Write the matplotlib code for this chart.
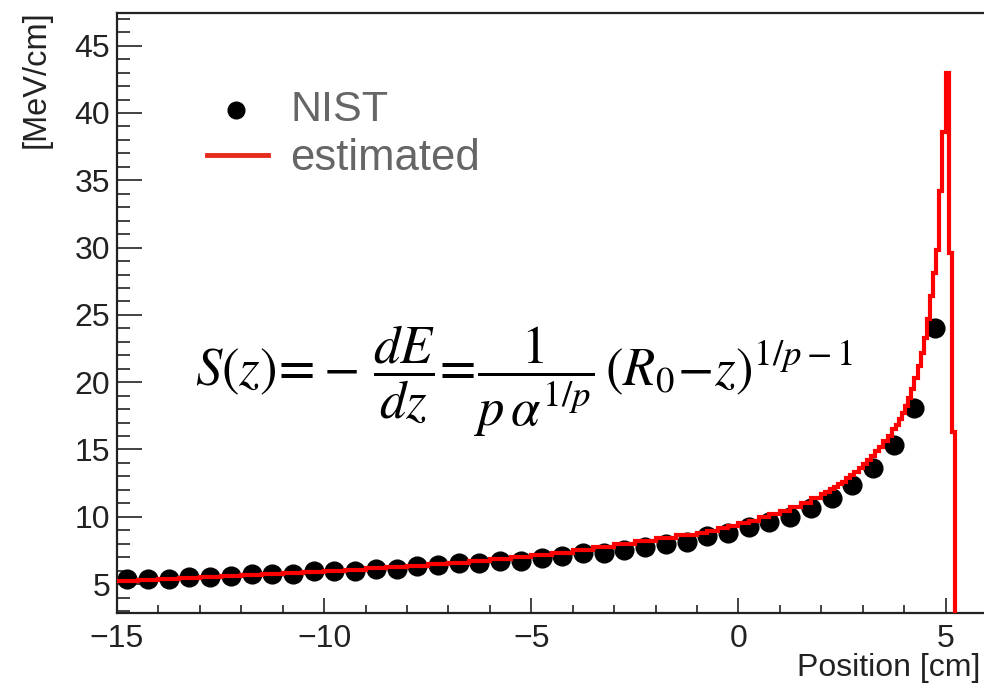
import numpy as np
import matplotlib
matplotlib.use("Agg")
import matplotlib.pyplot as plt
from matplotlib.lines import Line2D
from matplotlib.ticker import MultipleLocator

plt.rcParams["font.family"] = ["Liberation Sans", "DejaVu Sans"]
plt.rcParams["mathtext.fontset"] = "stix"

# NIST stopping power points (position in cm, MeV/cm)
nist_x = [-14.75, -14.25, -13.75, -13.25, -12.75, -12.25, -11.75, -11.25, -10.75, -10.25,
          -9.75, -9.25, -8.75, -8.25, -7.75, -7.25, -6.75, -6.25, -5.75, -5.25,
          -4.75, -4.25, -3.75, -3.25, -2.75, -2.25, -1.75, -1.25, -0.75, -0.25,
          0.25, 0.75, 1.25, 1.75, 2.25, 2.75, 3.25, 3.75, 4.25, 4.75]
nist_y = [5.34, 5.39, 5.40, 5.50, 5.50, 5.60, 5.75, 5.75, 5.75, 5.95,
          5.95, 5.95, 6.15, 6.15, 6.33, 6.38, 6.54, 6.54, 6.74, 6.74,
          6.92, 7.09, 7.29, 7.34, 7.53, 7.78, 7.98, 8.15, 8.60, 8.77,
          9.22, 9.64, 10.01, 10.63, 11.37, 12.36, 13.60, 15.33, 18.05, 24.0]

# Estimated dE/dz histogram: bin edges and contents
est_edges = np.concatenate([
    np.linspace(-15.0, -1.0, 29)[:-1],
    np.linspace(-1.0, 2.0, 13)[:-1],
    np.linspace(2.0, 3.8, 19)[:-1],
    np.linspace(3.8, 5.3, 21),
])
est_vals = [
    # -15 .. -1 (0.5 cm bins)
    5.20, 5.33, 5.38, 5.43, 5.52, 5.58, 5.65, 5.75, 5.82, 5.92,
    6.00, 6.08, 6.17, 6.26, 6.36, 6.46, 6.58, 6.72, 6.85, 7.00,
    7.16, 7.32, 7.50, 7.72, 7.95, 8.18, 8.42, 8.62,
    # -1 .. 2 (0.25 cm bins)
    8.82, 8.97, 9.13, 9.30, 9.50, 9.72, 9.95, 10.20, 10.45, 10.75, 11.05, 11.40,
    # 2 .. 3.8 (0.1 cm bins)
    11.70, 11.85, 12.05, 12.20, 12.40, 12.60, 12.85, 13.10, 13.35, 13.60,
    13.90, 14.20, 14.50, 14.85, 15.20, 15.60, 16.00, 16.50,
    # 3.8 .. 5.3 (0.075 cm bins)
    16.8, 17.3, 17.7, 18.2, 18.8, 19.5, 20.3, 21.2, 22.2, 23.3,
    24.7, 26.4, 28.1, 29.8, 34.2, 38.6, 43.0, 29.6, 16.3, 0.0,
]

legend_labels = ["NIST", "estimated"]

W, H = 984, 686
fig = plt.figure(figsize=(W / 100, H / 100), dpi=100)
ax = fig.add_axes([117 / W, 1 - 613 / H, 870 / W, 600 / H])

ax.plot(nist_x, nist_y, "o", color="black", markersize=13.5, zorder=2)
ax.stairs(est_vals, est_edges, color="red", lw=3.0, baseline=None, zorder=3)

ax.set_xlim(-15, 6)
ax.set_ylim(2.85, 47.43)

ax.xaxis.set_major_locator(MultipleLocator(5))
ax.xaxis.set_minor_locator(MultipleLocator(1))
ax.yaxis.set_major_locator(MultipleLocator(5))
ax.yaxis.set_minor_locator(MultipleLocator(1))

ax.tick_params(axis="both", which="both", direction="in", width=1.2, colors="#222222",
               labelsize=23, top=False, right=False)
ax.tick_params(axis="x", which="major", length=11, pad=8)
ax.tick_params(axis="x", which="minor", length=6)
ax.tick_params(axis="y", which="major", length=18, pad=5)
ax.tick_params(axis="y", which="minor", length=9)
for side in ("left", "bottom", "top"):
    ax.spines[side].set_linewidth(1.6)
    ax.spines[side].set_color("#222222")
ax.spines["right"].set_visible(False)

# Axis titles
fig.text(980 / W, 1 - 668 / H, "Position [cm]", ha="right", va="center",
         fontsize=23, color="#222222")
fig.text(36 / W, 1 - 10 / H, "[MeV/cm]", ha="center", va="top", rotation=90,
         fontsize=23.5, color="#222222")

# Legend
fig.add_artist(Line2D([236 / W], [1 - 110 / H], marker="o", color="black",
                      markersize=12, linestyle="none", transform=fig.transFigure))
fig.add_artist(Line2D([207 / W, 268 / W], [1 - 155 / H, 1 - 155 / H], color="#e52b1c",
                      lw=3.5, transform=fig.transFigure))
fig.text(290 / W, 1 - 110 / H, legend_labels[0], ha="left", va="center",
         fontsize=31, color="#666666")
fig.text(290 / W, 1 - 158 / H, legend_labels[1], ha="left", va="center",
         fontsize=31.5, color="#666666")

# Bragg-Kleeman stopping power formula
fig.text(524 / W, 1 - 381 / H,
         r"$S(z)\!=\!-\,\dfrac{dE}{dz}\!=\!\dfrac{1}{p\,\alpha^{1/p}}\,(R_0\!-\!z)^{1/p-1}$",
         ha="center", va="center", fontsize=38, color="black")

fig.savefig("out.png", dpi=100)
